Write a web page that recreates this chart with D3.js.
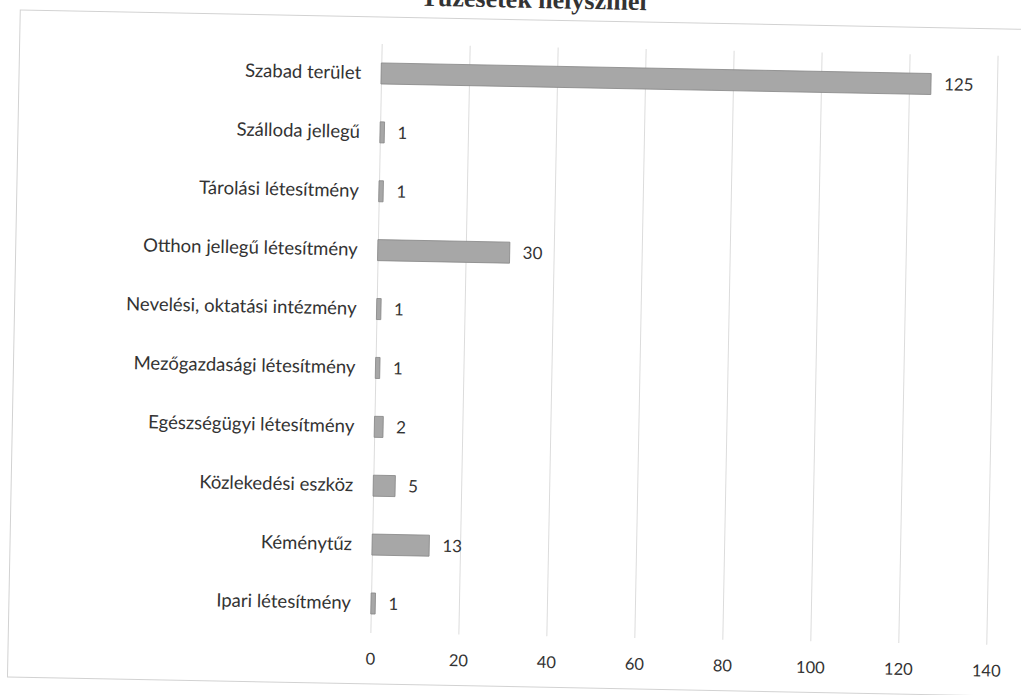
<!DOCTYPE html>
<html lang="hu">
<head>
<meta charset="UTF-8">
<title>Tűzesetek helyszínei</title>
<script src="https://d3js.org/d3.v7.min.js"></script>
<style>
  body { margin: 0; background: #fff; }
  svg text { font-family: Lato, "Open Sans", sans-serif; fill: #333; }
  .title { font-family: "Liberation Serif", "Times New Roman", serif; font-weight: bold; font-size: 26px; }
  .grid line { stroke: #dcdcdc; stroke-width: 1px; }
  .bar { fill: #a7a7a7; stroke: #858585; stroke-width: 0.8px; }
</style>
</head>
<body>
<svg width="1021" height="695"></svg>
<script>
var categories = [
  "Szabad terület",
  "Szálloda jellegű",
  "Tárolási létesítmény",
  "Otthon jellegű létesítmény",
  "Nevelési, oktatási intézmény",
  "Mezőgazdasági létesítmény",
  "Egészségügyi létesítmény",
  "Közlekedési eszköz",
  "Kéménytűz",
  "Ipari létesítmény"
];
var values = [125, 1, 1, 30, 1, 1, 2, 5, 13, 1];
var xTicks = [0, 20, 40, 60, 80, 100, 120, 140];
var title = "Tűzesetek helyszínei";

var svg = d3.select("svg");

// the scanned page is a little tilted, so the whole chart is turned slightly
var g = svg.append("g").attr("transform", "rotate(1.1, 378, 340)");

var plotTop = 44, plotBottom = 633;

var x = d3.scaleLinear().domain([0, 140]).range([376, 992]);
var y = d3.scaleBand().domain(categories).range([plotTop, plotBottom])
    .paddingInner(0.643).paddingOuter(0.3215);

// chart frame
g.append("rect")
    .attr("x", 14).attr("y", 17)
    .attr("width", 1030).attr("height", 667)
    .attr("fill", "none")
    .attr("stroke", "#d2d2d2");

// title sits above the frame, cut by the page edge
g.append("text")
    .attr("class", "title")
    .attr("x", 527).attr("y", 5)
    .attr("text-anchor", "middle")
    .text(title);

// vertical gridlines
g.append("g")
    .attr("class", "grid")
    .attr("transform", "translate(0," + plotBottom + ")")
    .call(d3.axisBottom(x).tickValues(xTicks).tickSize(-(plotBottom - plotTop)).tickFormat(""))
    .call(function(s) { s.select(".domain").remove(); });

// x tick labels
g.append("g")
    .attr("transform", "translate(0," + plotBottom + ")")
    .call(d3.axisBottom(x).tickValues(xTicks).tickSize(0).tickPadding(20))
    .call(function(s) {
        s.select(".domain").remove();
        s.selectAll("text").style("font-size", "16.5px").attr("fill", "#333");
    });

// category labels
g.append("g")
    .attr("transform", "translate(" + x(0) + ",0)")
    .call(d3.axisLeft(y).tickSize(0).tickPadding(20))
    .call(function(s) {
        s.select(".domain").remove();
        s.selectAll("text").style("font-size", "18.5px").attr("fill", "#333");
    });

var data = categories.map(function(c, i) { return { cat: c, val: values[i] }; });

g.append("g").selectAll("rect")
    .data(data)
    .enter().append("rect")
    .attr("class", "bar")
    .attr("x", x(0))
    .attr("y", function(d) { return y(d.cat); })
    .attr("width", function(d) { return x(d.val) - x(0); })
    .attr("height", y.bandwidth());

g.append("g").selectAll("text")
    .data(data)
    .enter().append("text")
    .attr("x", function(d) { return x(d.val) + 13; })
    .attr("y", function(d) { return y(d.cat) + y.bandwidth() / 2; })
    .attr("dy", "0.35em")
    .style("font-size", "17px")
    .text(function(d) { return d.val; });
</script>
</body>
</html>
